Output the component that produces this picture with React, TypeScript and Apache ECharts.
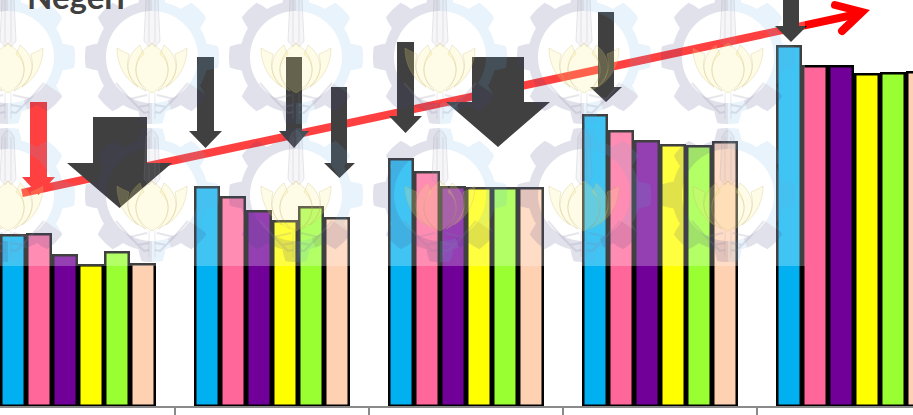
import React, { useEffect, useRef } from "react";
import * as echarts from "echarts";

// Grouped bars: six series across five categories, heights on an unlabelled scale.
const categories = ["A", "B", "C", "D", "E"];
const seriesBlue = [173, 221, 249, 293, 362];
const seriesPink = [174, 211, 236, 277, 342];
const seriesPurple = [153, 197, 221, 267, 342];
const seriesYellow = [143, 187, 220, 263, 334];
const seriesGreen = [156, 201, 220, 262, 335];
const seriesPeach = [144, 190, 220, 266, 336];

const seriesValues = [seriesBlue, seriesPink, seriesPurple, seriesYellow, seriesGreen, seriesPeach];
const seriesColors = ["#00B0F0", "#FF6699", "#700098", "#FFFF00", "#99FF33", "#FFD1B3"];

const titleText = "Negeri";

// Gear outline for the tiled emblem: eight teeth, sampled around the ring.
function gearRadius(deg: number) {
  const m = ((deg % 45) + 45) % 45;
  const d = Math.min(m, 45 - m);
  if (d < 9) return 67;
  if (d > 14) return 56;
  return 67 - ((d - 9) / 5) * 11;
}

function gearPath(from: number, to: number) {
  const pts: string[] = [];
  const step = 1;
  for (let a = from; a <= to; a += step) {
    const r = gearRadius(a);
    const t = (a * Math.PI) / 180;
    pts.push(`${(r * Math.cos(t)).toFixed(2)},${(r * Math.sin(t)).toFixed(2)}`);
  }
  for (let a = to; a >= from; a -= step) {
    const t = (a * Math.PI) / 180;
    pts.push(`${(46 * Math.cos(t)).toFixed(2)},${(46 * Math.sin(t)).toFixed(2)}`);
  }
  return "M" + pts.join("L") + "Z";
}

const petalCentre = "M0,-14C10,-8 16,3 16,12C16,24 8,32 0,36C-8,32 -16,24 -16,12C-16,3 -10,-8 0,-14Z";
const petalsInner =
  "M8,-3C10,-6 11,-10 12,-12C20,-6 24,2 24,10C24,20 18,28 6,34C14,26 17,18 16,10C15,4 12,0 8,-3Z" +
  "M-8,-3C-10,-6 -11,-10 -12,-12C-20,-6 -24,2 -24,10C-24,20 -18,28 -6,34C-14,26 -17,18 -16,10C-15,4 -12,0 -8,-3Z";
const petalsOuter =
  "M23,-3C28,-5 32,-7 35,-9C35,4 30,20 14,30C22,22 26,12 24,3Z" +
  "M-23,-3C-28,-5 -32,-7 -35,-9C-35,4 -30,20 -14,30C-22,22 -26,12 -24,3Z";
const tower = "M-6,-58L-3,-63L0,-65L3,-63L6,-58L8,-16L3,-10L0,-14L-3,-10L-8,-16Z";
const towerLines = "M-3,-58L-3,-14M3,-58L3,-14M-3,36L-3,62M3,36L3,62";
const baseLines =
  "M-36,26L-22,42L-5,38M36,26L22,42L5,38M-22,42L-14,50L-3,48M22,42L14,50L3,48M-14,50L-8,56L-3,55M14,50L8,56L3,55";

echarts.graphic.registerShape("gearLavenderA", echarts.graphic.extendPath(gearPath(90, 270), {}));
echarts.graphic.registerShape("gearLavenderB", echarts.graphic.extendPath(gearPath(35, 70), {}));
echarts.graphic.registerShape("gearBlueA", echarts.graphic.extendPath(gearPath(-90, 35), {}));
echarts.graphic.registerShape("gearBlueB", echarts.graphic.extendPath(gearPath(70, 90), {}));
echarts.graphic.registerShape("petalCentre", echarts.graphic.extendPath(petalCentre, {}));
echarts.graphic.registerShape("petalsInner", echarts.graphic.extendPath(petalsInner, {}));
echarts.graphic.registerShape("petalsOuter", echarts.graphic.extendPath(petalsOuter, {}));
echarts.graphic.registerShape("towerBody", echarts.graphic.extendPath(tower, {}));
echarts.graphic.registerShape("towerLines", echarts.graphic.extendPath(towerLines, {}));
echarts.graphic.registerShape("baseLines", echarts.graphic.extendPath(baseLines, {}));

function emblem(x: number, y: number) {
  const z = 11;
  const lotusEdge = "rgba(190,175,90,0.24)";
  const lavender = "rgba(70,70,130,0.16)";
  const paleBlue = "rgba(90,170,225,0.14)";
  const cream = "rgba(250,235,130,0.2)";
  return [
    { type: "gearLavenderA", x, y, z, style: { fill: lavender } },
    { type: "gearLavenderB", x, y, z, style: { fill: lavender } },
    { type: "gearBlueA", x, y, z, style: { fill: paleBlue } },
    { type: "gearBlueB", x, y, z, style: { fill: paleBlue } },
    { type: "towerBody", x, y, z, style: { fill: "rgba(170,170,185,0.1)", stroke: "rgba(140,140,160,0.2)", lineWidth: 1 } },
    { type: "towerLines", x, y, z, style: { fill: "none", stroke: "rgba(140,140,160,0.2)", lineWidth: 1 } },
    { type: "baseLines", x, y, z, style: { fill: "none", stroke: "rgba(130,130,160,0.2)", lineWidth: 2 } },
    { type: "petalsOuter", x, y, z, style: { fill: cream, stroke: lotusEdge, lineWidth: 1 } },
    { type: "petalsInner", x, y, z, style: { fill: cream, stroke: lotusEdge, lineWidth: 1 } },
    { type: "petalCentre", x, y, z, style: { fill: cream, stroke: lotusEdge, lineWidth: 1 } },
  ];
}

// Down arrow: shaft left/right, top, head start, wing left/right, tip.
function downArrow(sl: number, sr: number, top: number, head: number, wl: number, wr: number, tip: number, fill: string) {
  return {
    type: "polygon",
    z: 5,
    shape: {
      points: [
        [sl, top],
        [sr, top],
        [sr, head],
        [wr, head],
        [(wl + wr) / 2, tip],
        [wl, head],
        [sl, head],
      ],
    },
    style: { fill },
  };
}

export default function App() {
  const ref = useRef<HTMLDivElement>(null);

  useEffect(() => {
    if (!ref.current) return;
    const chart = echarts.init(ref.current, undefined, { renderer: "svg" });
    const tileXs = [8, 152, 296, 440, 584, 728];
    const tileYs = [57, 195];
    const tiles = tileYs.flatMap((y) => tileXs.flatMap((x) => emblem(x, y)));

    chart.setOption({
      animation: false,
      backgroundColor: "#ffffff",
      // The first and last groups run past the edges of the chart area.
      grid: { left: -19, top: 0, width: 970, height: 407, outerBoundsMode: "none" },
      xAxis: {
        type: "category",
        data: categories,
        z: 3,
        axisLine: { lineStyle: { color: "#8a8a8a", width: 2 } },
        axisTick: { show: true, length: 8, lineStyle: { color: "#8a8a8a", width: 2 } },
        axisLabel: { show: false },
      },
      yAxis: { type: "value", min: 0, max: 407, show: false, splitLine: { show: false } },
      series: seriesValues.map((data, i) => ({
        type: "bar",
        data,
        barGap: 0,
        barCategoryGap: "19.6%",
        itemStyle: { color: seriesColors[i], borderColor: "#000000", borderWidth: 2.5 },
      })),
      graphic: {
        elements: [
          // Rising trend line with an open arrow head.
          {
            type: "line",
            z: 4,
            shape: { x1: 22, y1: 193, x2: 860, y2: 13.5 },
            style: { stroke: "#ff0000", lineWidth: 8 },
          },
          {
            type: "polyline",
            z: 4,
            shape: { points: [[835, 5], [862, 12], [842, 31]] },
            style: { stroke: "#ff0000", lineWidth: 8, fill: "none", lineCap: "round", lineJoin: "miter" },
          },
          downArrow(30, 47, 102, 177, 22, 55, 195, "#ff0000"),
          downArrow(93, 147, 117, 163, 67, 172, 208, "#000000"),
          downArrow(197, 214, 57, 131, 189, 222, 148, "#000000"),
          downArrow(286, 302, 57, 131, 279, 309, 148, "#000000"),
          downArrow(331, 347, 87, 163, 324, 355, 178, "#000000"),
          downArrow(397, 414, 42, 116, 389, 422, 133, "#000000"),
          downArrow(472, 524, 57, 102, 446, 550, 147, "#000000"),
          downArrow(598, 614, 12, 87, 590, 622, 102, "#000000"),
          downArrow(783, 799, -5, 26, 775, 807, 42, "#000000"),
          // Pale veil over the upper part of the plot, with the tiled emblem on it.
          {
            type: "rect",
            z: 10,
            shape: { x: 0, y: 0, width: 805, height: 266 },
            style: { fill: "rgba(255,255,255,0.25)" },
          },
          ...tiles,
          {
            type: "text",
            z: 20,
            x: 27,
            y: 12,
            style: {
              text: titleText,
              fill: "#404040",
              font: "bold 33px Lato, sans-serif",
              verticalAlign: "bottom",
            },
          },
        ],
      },
    });
    return () => chart.dispose();
  }, []);

  return <div ref={ref} style={{ position: "absolute", left: 0, top: 0, width: 913, height: 415 }} />;
}
